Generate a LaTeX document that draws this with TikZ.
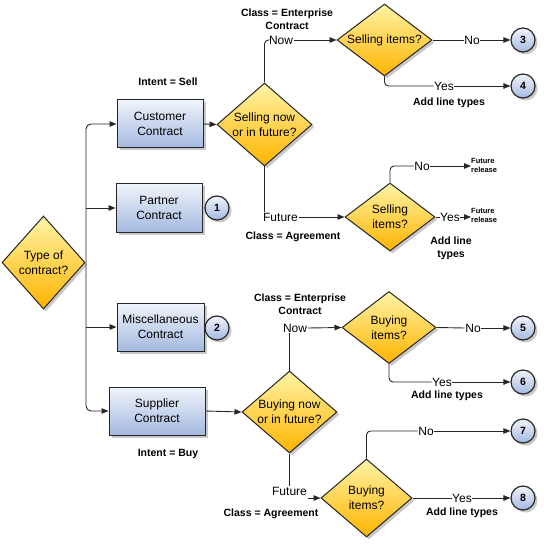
\documentclass[tikz,border=0pt]{standalone}
\usepackage{fontspec}
\setmainfont{Liberation Sans}
\usetikzlibrary{shapes.geometric,arrows.meta,shadows}
\definecolor{boxtop}{HTML}{F0F4FB}
\definecolor{boxbot}{HTML}{A4B9E0}
\definecolor{diatop}{HTML}{FFF4A6}
\definecolor{diabot}{HTML}{FFB400}
\definecolor{edgec}{HTML}{262626}
\definecolor{shadowc}{HTML}{C8C8C8}
\tikzset{
  shad/.style={drop shadow={shadow xshift=2.5pt,shadow yshift=-2.5pt,fill=shadowc,opacity=1}},
  cbox/.style={rectangle, draw=edgec, line width=1pt, top color=boxtop, bottom color=boxbot,
    minimum height=48pt, inner sep=0pt, align=center, shad},
  cdia/.style={diamond, draw=edgec, line width=1pt, top color=diatop, bottom color=diabot,
    inner sep=0pt, shad},
  dtext/.style={align=center, inner sep=0pt},
  num/.style={circle, draw=edgec, line width=1.2pt, top color=boxtop, bottom color=boxbot,
    minimum size=24pt, inner sep=0pt, font=\bfseries\fontsize{10.5}{12}\selectfont, shad},
  blbl/.style={font=\bfseries\fontsize{10.5}{13}\selectfont, align=center, inner sep=0pt},
  elab/.style={inner xsep=0.5pt, inner ysep=1pt},
  frel/.style={font=\bfseries\fontsize{7.5}{9}\selectfont, align=left, inner sep=0pt, anchor=west},
  conn/.style={draw=edgec, line width=0.9pt},
  arr/.style={conn, -{Triangle[length=7pt,width=5.5pt]}},
}
\begin{document}
\begin{tikzpicture}[x=1pt,y=-1pt,font=\fontsize{12}{15}\selectfont]
\useasboundingbox (0,0) rectangle (543,545);
% left
\node[cdia, minimum width=83pt, minimum height=93pt] (type) at (43.5,262.5) {};
\node[dtext] (type-t) at (type) {Type of\\contract?};
\node[cbox, minimum width=86pt] (cust) at (160,124) {Customer\\Contract};
\node[cbox, minimum width=86pt] (part) at (159,208) {Partner\\Contract};
\node[cbox, minimum width=87pt] (misc) at (160.5,327) {Miscellaneous\\Contract};
\node[cbox, minimum width=96pt] (supp) at (157,411) {Supplier\\Contract};
\node[num] (c1) at (217,208) {1};
\node[num] (c2) at (217,328) {2};
\node[blbl] (isell) at (168,82) {Intent = Sell};
\node[blbl] (ibuy) at (168,454) {Intent = Buy};
\coordinate (trunk) at (86,262.5);
\draw[arr, rounded corners=5pt] (trunk) |- (cust.west);
\draw[arr, rounded corners=5pt] (trunk) |- (supp.west);
\draw[arr] (trunk |- part.west) -- (part.west);
\draw[arr] (trunk |- misc.west) -- (misc.west);

% selling branch
\node[cdia, minimum width=95pt, minimum height=83pt] (sn) at (264.5,124.5) {};
\node[dtext] (sn-t) at (sn) {Selling now\\or in future?};
\draw[arr] (cust.east) -- (sn.west);
\node[blbl] (cec1) at (287,19.5) {Class = Enterprise\\Contract};
\node[elab] (now1) at (281,40) {Now};
\node[cdia, minimum width=95pt, minimum height=72pt] (si1) at (384.5,40) {};
\node[dtext] (si1-t) at (si1) {Selling items?};
\draw[conn, rounded corners=4pt] (sn.north) |- (now1.west);
\draw[arr] (now1.east) -- (si1.west);
\node[elab] (no1) at (472,40) {No};
\node[num] (c3) at (523,40) {3};
\draw[conn] (si1.east) -- (no1.west);
\draw[arr] (no1.east) -- (c3.west);
\node[elab] (yes1) at (444,86) {Yes};
\node[num] (c4) at (523,86) {4};
\draw[conn, rounded corners=4pt] (si1.south) |- (yes1.west);
\draw[arr] (yes1.east) -- (c4.west);
\node[blbl] (alt1) at (449,103) {Add line types};

\node[elab] (fut1) at (280.5,217) {Future};
\node[blbl] (ca1) at (293,237) {Class = Agreement};
\node[cdia, minimum width=90pt, minimum height=68pt] (si2) at (390,217) {};
\node[dtext] (si2-t) at (si2) {Selling\\items?};
\draw[conn] (sn.south) -- (sn.south |- fut1.north);
\draw[arr] (fut1.east) -- (si2.west);
\node[elab] (no2) at (422,166) {No};
\node[frel] (fr1) at (471,165) {Future\\release};
\draw[conn, rounded corners=4pt] (si2.north) |- (no2.west);
\draw[arr] (no2.east) -- (fr1.west |- no2.east);
\node[elab] (yes2) at (450,217) {Yes};
\node[frel] (fr2) at (471,215) {Future\\release};
\draw[conn] (si2.east) -- (yes2.west);
\draw[arr] (yes2.east) -- (fr2.west |- yes2.east);
\node[blbl] (alt2) at (451,248) {Add line\\types};

% buying branch
\node[cdia, minimum width=95pt, minimum height=82pt] (bn) at (289.5,412) {};
\node[dtext] (bn-t) at (bn) {Buying now\\or in future?};
\draw[arr] (supp.east) -- (bn.west);
\node[blbl] (cec2) at (300,304.5) {Class = Enterprise\\Contract};
\node[elab] (now2) at (295,328) {Now};
\node[cdia, minimum width=94pt, minimum height=72pt] (bi1) at (389,327.5) {};
\node[dtext] (bi1-t) at (bi1) {Buying\\items?};
\draw[conn] (bn.north) -- (bn.north |- now2.south);
\draw[arr] (now2.east) -- (bi1.west);
\node[elab] (no3) at (473,328) {No};
\node[num] (c5) at (523,328) {5};
\draw[conn] (bi1.east) -- (no3.west);
\draw[arr] (no3.east) -- (c5.west);
\node[elab] (yes3) at (442,382) {Yes};
\node[num] (c6) at (523,382) {6};
\draw[conn, rounded corners=4pt] (bi1.south) |- (yes3.west);
\draw[arr] (yes3.east) -- (c6.west);
\node[blbl] (alt3) at (447,396) {Add line types};

\node[elab] (fut2) at (289.5,491) {Future};
\node[blbl] (ca2) at (271,514) {Class = Agreement};
\node[cdia, minimum width=91pt, minimum height=78pt] (bi2) at (366.5,498) {};
\node[dtext] (bi2-t) at (bi2) {Buying\\items?};
\draw[conn] (bn.south) -- (bn.south |- fut2.north);
\draw[arr] (fut2.east |- bi2.west) -- (bi2.west);
\node[elab] (no4) at (426,431) {No};
\node[num] (c7) at (523,431) {7};
\draw[conn, rounded corners=4pt] (bi2.north) |- (no4.west);
\draw[arr] (no4.east) -- (c7.west);
\node[elab] (yes4) at (462,498) {Yes};
\node[num] (c8) at (523,498) {8};
\draw[conn] (bi2.east) -- (yes4.west);
\draw[arr] (yes4.east) -- (c8.west);
\node[blbl] (alt4) at (462,513) {Add line types};
\end{tikzpicture}
\end{document}
